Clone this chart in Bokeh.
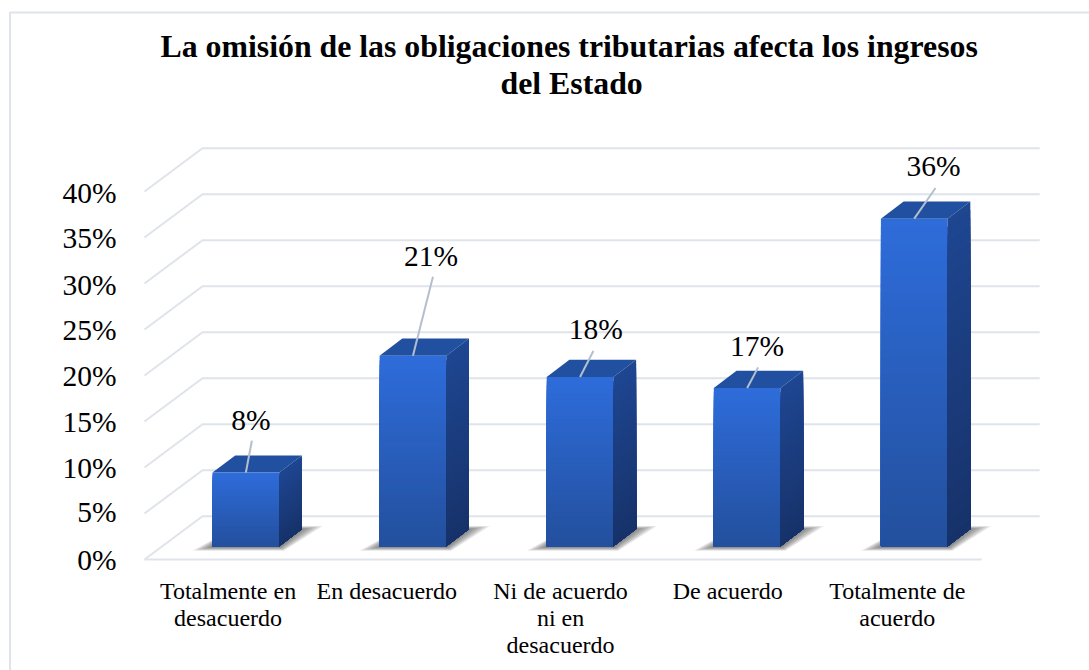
from bokeh.plotting import figure
from bokeh.models import Range1d, FixedTicker, ColumnDataSource
from bokeh.core.properties import value
from bokeh.embed import file_html
from bokeh.resources import INLINE
import numpy as np

# ---- data -------------------------------------------------------------
categories = ["Totalmente en\ndesacuerdo", "En desacuerdo", "Ni de acuerdo\nni en\ndesacuerdo",
              "De acuerdo", "Totalmente de\nacuerdo"]
values = [8.0, 20.7, 18.4, 17.2, 35.6]
value_labels = ["8%", "21%", "18%", "17%", "36%"]
y_ticks = [0, 5, 10, 15, 20, 25, 30, 35, 40]
y_tick_labels = ["0%", "5%", "10%", "15%", "20%", "25%", "30%", "35%", "40%"]
y_tick_label_positions = [0.0, 5.2, 9.9, 14.9, 19.9, 24.9, 29.8, 34.9, 39.8]
title_lines = ["La omisión de las obligaciones tributarias afecta los ingresos", "del Estado"]
category_tick_positions = [0.5, 1.45, 2.49, 3.49, 4.505]

# ---- style / geometry ---------------------------------------------------
FONT = "Liberation Serif"
GRID = "#DFE3EA"
LEADER = "#B4BFCE"
W, H = 1089, 670
ORIGIN_X, ORIGIN_Y = 144, 559   # page pixel of the floor's front-left corner
PX_X = 167.1   # pixels per category
PX_Y = 9.2     # pixels per percent
FLOOR_END = 5.01
WALL_DX, WALL_DY = 58 / PX_X, 43.3 / PX_Y
BAR_LEFT, BAR_W = 68.0 / PX_X, 66.7 / PX_X
BAR_BASE = 13.3 / PX_Y
BAR_DX, BAR_DY = 22.7 / PX_X, 17.2 / PX_Y
leader_dx = [6, 20, 13.3, 11, 21.3]
leader_dy = [32, 79, 26, 20.6, 30.7]
label_dx = [5, 18, 15.7, 10, 19.3]
label_dy = [53, 100, 47.7, 41.6, 52.3]
N = 40


def ramp(c0, c1, n):
    c0, c1 = np.array(c0, float), np.array(c1, float)
    return ["#%02x%02x%02x" % tuple(int(round(v)) for v in c0 + (c1 - c0) * t)
            for t in np.linspace(0, 1, n)]


def page_x(px):
    return (px - ORIGIN_X) / PX_X


def page_y(py):
    return (ORIGIN_Y - py) / PX_Y


p = figure(width=W, height=H, output_backend="svg", toolbar_location=None,
           x_range=Range1d(page_x(0), page_x(W)),
           y_range=Range1d(page_y(H), page_y(0)),
           min_border=0, outline_line_color=None,
           background_fill_color="white", border_fill_color="white")
p.xgrid.visible = False
p.ygrid.visible = False

# outer frame: only its top and left edges fall inside the page
p.line(x=[page_x(W), page_x(9.5), page_x(9.5)], y=[page_y(12), page_y(12), page_y(H)],
       line_color=GRID, line_width=2)

# title
p.text(x=[page_x(160), page_x(500)], y=[page_y(45.5), page_y(82.5)], text=title_lines,
       text_font=value(FONT), text_font_size={"value": "31.8px"}, text_font_style="bold",
       text_align="left", text_baseline="middle", text_color="black")

# axes, pinned at the floor corner inside the full-page frame
ax = p.yaxis[0]
ax.fixed_location = page_x(142)
ax.ticker = FixedTicker(ticks=y_tick_label_positions)
ax.major_label_overrides = dict(zip(y_tick_label_positions, y_tick_labels))
ax.axis_line_color = None
ax.major_tick_line_color = None
ax.minor_tick_line_color = None
ax.major_tick_out = 0
ax.major_label_standoff = 26
ax.major_label_text_font = FONT
ax.major_label_text_font_size = "29.5px"
ax.major_label_text_color = "black"

bx = p.xaxis[0]
bx.fixed_location = page_y(565)
bx.ticker = FixedTicker(ticks=category_tick_positions)
bx.major_label_overrides = dict(zip(category_tick_positions, categories))
bx.axis_line_color = None
bx.major_tick_line_color = None
bx.minor_tick_line_color = None
bx.major_tick_out = 0
bx.major_label_standoff = 12
bx.major_label_text_font = FONT
bx.major_label_text_font_size = "24px"
bx.major_label_text_line_height = 1.05
bx.major_label_text_color = "black"

# 3-D walls: back lines, side diagonals, floor front edge
p.multi_line(xs=[[0, WALL_DX, FLOOR_END + WALL_DX] for _ in y_ticks],
             ys=[[v, v + WALL_DY, v + WALL_DY] for v in y_ticks],
             line_color=GRID, line_width=2)
p.line(x=[0, FLOOR_END], y=[0, 0], line_color=GRID, line_width=2)

# bars
front_cols = ramp((46, 108, 218), (35, 80, 158), N)
side_cols = ramp((30, 70, 145), (23, 50, 106), N)
for i, v in enumerate(values):
    x0 = i + BAR_LEFT
    x1 = x0 + BAR_W
    b = BAR_BASE
    # soft floor shadow: translucent layers shrinking towards the footprint
    for t in np.linspace(0, 1, 9):
        out = 1 - t
        sx = [x0 - (19 * out + 1) / PX_X, x1 + (4 * out + 1) / PX_X,
              x1 + BAR_DX + (20 * out + 1) / PX_X, x0 + BAR_DX + (2 * out) / PX_X]
        sy = [b - (3.5 * out + 1) / PX_Y, b - (3.5 * out + 1) / PX_Y,
              b + BAR_DY + (3 * out) / PX_Y, b + BAR_DY + (3 * out) / PX_Y]
        p.patch(sx, sy, fill_color="#3a3a3a", fill_alpha=0.09, line_color=None)
    # top face
    p.patch([x0, x1, x1 + BAR_DX, x0 + BAR_DX], [b + v, b + v, b + v + BAR_DY, b + v + BAR_DY],
            fill_color="#20509F", line_color=None)
    # front + side faces: gradient painted from the top down
    tops = b + v * np.linspace(1, 0, N, endpoint=False)
    src = ColumnDataSource(dict(left=[x0] * N, right=[x1] * N, top=tops, bottom=[b] * N, c=front_cols))
    p.quad(left="left", right="right", top="top", bottom="bottom", fill_color="c", line_color=None, source=src)
    p.patches(xs=[[x1, x1 + BAR_DX, x1 + BAR_DX, x1] for _ in tops],
              ys=[[t, t + BAR_DY, b + BAR_DY, b] for t in tops],
              fill_color=side_cols, line_color=None)

# leaders and data labels
cx = [i + BAR_LEFT + BAR_W / 2 for i in range(len(values))]
tops = [BAR_BASE + v for v in values]
p.segment(x0=cx, y0=tops,
          x1=[c + d / PX_X for c, d in zip(cx, leader_dx)],
          y1=[t + d / PX_Y for t, d in zip(tops, leader_dy)],
          line_color=LEADER, line_width=2)
p.text(x=[c + d / PX_X for c, d in zip(cx, label_dx)],
       y=[t + d / PX_Y for t, d in zip(tops, label_dy)],
       text=value_labels, text_font=value(FONT), text_font_size={"value": "29.5px"},
       text_align="center", text_baseline="middle", text_color="black")

open("out.html", "w").write(file_html(p, INLINE))
